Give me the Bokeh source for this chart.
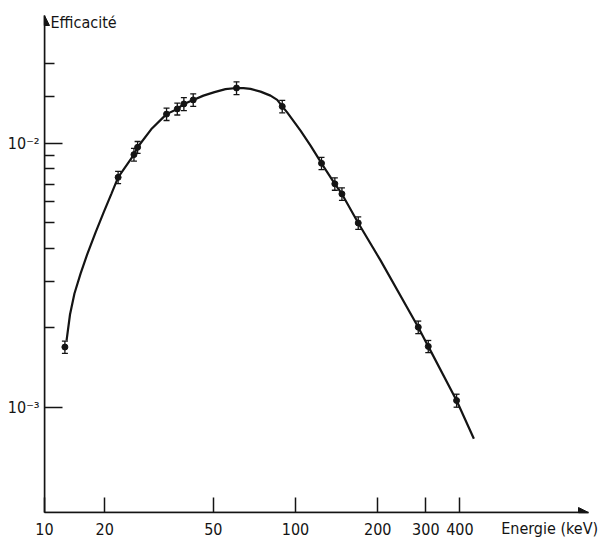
from bokeh.plotting import figure
from bokeh.models import FixedTicker, Label, Arrow, NormalHead, ColumnDataSource
from bokeh.embed import file_html
from bokeh.resources import INLINE

# ---- data ----
energy_keV = [14.3, 22.4, 25.6, 26.4, 33.7, 36.9, 39.0, 42.2, 60.8, 89.4,
              124.5, 139.3, 147.9, 169.7, 281.5, 306.3, 388.9]
efficiency = [1.69e-3, 7.43e-3, 9.06e-3, 9.66e-3, 1.29e-2, 1.35e-2, 1.41e-2,
              1.46e-2, 1.62e-2, 1.38e-2, 8.40e-3, 7.02e-3, 6.43e-3, 4.99e-3,
              2.01e-3, 1.70e-3, 1.06e-3]
efficiency_err = [0.09e-3, 0.40e-3, 0.50e-3, 0.50e-3, 0.07e-2, 0.07e-2,
                  0.08e-2, 0.08e-2, 0.09e-2, 0.075e-2, 0.45e-3, 0.38e-3,
                  0.35e-3, 0.27e-3, 0.11e-3, 0.09e-3, 0.06e-3]

curve_keV = [14.50, 14.93, 15.50, 16.32, 17.30, 18.51, 19.81, 21.18, 22.4,
             25.6, 26.4, 29.6, 33.7, 36.9, 39.0, 42.2, 46.0, 50.5, 55.4, 60.8,
             64.5, 68.4, 74.45, 80.98, 85.7, 89.4, 93.2, 104.3, 113.5, 121.7,
             124.5, 139.3, 147.9, 169.7, 204.8, 281.5, 306.3, 388.9, 450.0]
curve_eff = [1.789e-3, 2.245e-3, 2.696e-3, 3.209e-3, 3.822e-3, 4.588e-3,
             5.463e-3, 6.450e-3, 7.43e-3, 9.06e-3, 9.66e-3, 1.13e-2, 1.29e-2,
             1.35e-2, 1.41e-2, 1.46e-2, 1.516e-2, 1.563e-2, 1.604e-2, 1.62e-2,
             1.618e-2, 1.607e-2, 1.570e-2, 1.516e-2, 1.460e-2, 1.38e-2,
             1.310e-2, 1.117e-2, 9.80e-3, 8.729e-3, 8.40e-3, 7.02e-3, 6.43e-3,
             4.99e-3, 3.60e-3, 2.01e-3, 1.70e-3, 1.06e-3, 7.59e-4]

x_origin = 12.04
x_end = 1183.0
y_origin = 3.99e-4
y_end = 3.05e-2

x_ticks = [x_origin, 20, 50, 100, 200, 300, 400]
x_tick_labels = ["10", "20", "50", "100", "200", "300", "400"]
y_ticks = [1e-3, 1e-2]
y_tick_labels = ["10\u207b\u00b3", "10\u207b\u00b2"]
y_minor_ticks = [2e-3, 3e-3, 4e-3, 5e-3, 6e-3, 7e-3, 8e-3, 9e-3, 1.5e-2, 2e-2]

x_title = "Energie (keV)"
y_title = "Efficacité"

FONT = "'Liberation Sans Narrow', 'DejaVu Sans Condensed', 'Roboto', sans-serif"
INK = "#141414"

p = figure(width=601, height=542, x_axis_type="log", y_axis_type="log",
           x_range=(x_origin, x_end), y_range=(y_origin, y_end),
           output_backend="svg", toolbar_location=None,
           min_border_left=44, min_border_right=13, min_border_top=15,
           min_border_bottom=30)
p.xgrid.visible = False
p.ygrid.visible = False
p.outline_line_color = None
p.background_fill_color = "white"
p.border_fill_color = "white"

for ax in (p.xaxis[0], p.yaxis[0]):
    ax.axis_line_width = 1.5
    ax.axis_line_color = INK
    ax.major_tick_line_color = INK
    ax.minor_tick_line_color = INK
    ax.major_tick_line_width = 1.5
    ax.minor_tick_line_width = 1.5
    ax.major_tick_out = 0
    ax.minor_tick_out = 0
    ax.major_label_text_font = FONT
    ax.major_label_text_font_size = "16px"
    ax.major_label_text_color = INK

xa = p.xaxis[0]
xa.ticker = FixedTicker(ticks=x_ticks, minor_ticks=[])
xa.major_label_overrides = {t: l for t, l in zip(x_ticks, x_tick_labels)}
xa.major_tick_in = 15
xa.minor_tick_in = 0
xa.major_label_standoff = 10
# x title sits at the right end, on the same row as the tick labels;
# the label is centred on the axis end, so pad it on the right
xa.axis_label = x_title + "\u00a0" * 17
xa.axis_label_text_font = FONT
xa.axis_label_text_font_size = "16px"
xa.axis_label_text_font_style = "normal"
xa.axis_label_text_color = INK
xa.axis_label_standoff = -19
if "axis_label_align" in xa.properties():
    xa.axis_label_align = "end"

ya = p.yaxis[0]
ya.ticker = FixedTicker(ticks=y_ticks, minor_ticks=y_minor_ticks)
ya.major_label_overrides = {t: l for t, l in zip(y_ticks, y_tick_labels)}
ya.major_tick_in = 18
ya.minor_tick_in = 10
ya.major_label_standoff = 5

# y title, inside the frame next to the arrow
p.add_layout(Label(x=x_origin, y=y_end, x_offset=6, y_offset=-7, text=y_title,
                   text_font=FONT, text_font_size="16px",
                   text_baseline="middle", text_align="left", text_color=INK))

# axis arrows
p.add_layout(Arrow(end=NormalHead(size=10, fill_color=INK, line_color=INK),
                   x_start=x_origin, y_start=y_origin, x_end=x_end, y_end=y_origin,
                   line_width=1.5, line_color=INK))
p.add_layout(Arrow(end=NormalHead(size=10, fill_color=INK, line_color=INK),
                   x_start=x_origin, y_start=y_origin, x_end=x_origin, y_end=y_end,
                   line_width=1.5, line_color=INK))

# fitted curve
p.line(curve_keV, curve_eff, line_width=2.2, line_color=INK)

# error bars and points
src = ColumnDataSource(dict(
    x=energy_keV, y=efficiency,
    upper=[v + e for v, e in zip(efficiency, efficiency_err)],
    lower=[v - e for v, e in zip(efficiency, efficiency_err)]))
p.segment(x0="x", y0="lower", x1="x", y1="upper", source=src,
          line_color=INK, line_width=1.3)
p.scatter("x", "upper", source=src, marker="dash", size=6,
          line_color=INK, line_width=1.3)
p.scatter("x", "lower", source=src, marker="dash", size=6,
          line_color=INK, line_width=1.3)
p.scatter("x", "y", source=src, size=6, fill_color=INK, line_color=INK)

open("out.html", "w").write(file_html(p, INLINE))
